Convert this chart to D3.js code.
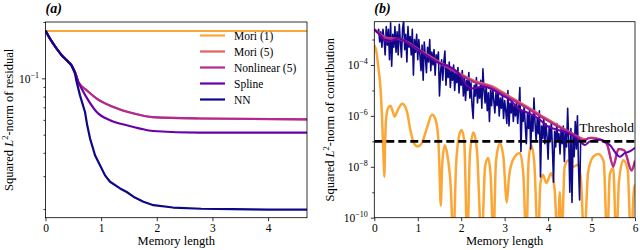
<!DOCTYPE html>
<html>
<head>
<meta charset="utf-8">
<script src="https://cdn.jsdelivr.net/npm/d3@7"></script>
<style>
  body { margin: 0; background: #fff; }
  svg, svg text { font-family: "Liberation Serif", "Times New Roman", Times, serif; }
</style>
</head>
<body>
<svg id="fig" width="640" height="250"></svg>
<script>
const FONT = '"Liberation Serif", "Times New Roman", Times, serif';
const seriesNames = ['Mori (1)', 'Mori (5)', 'Nonlinear (5)', 'Spline', 'NN'];
const colors = ['#fca636', '#e16462', '#b12a90', '#6a00a8', '#0d0887'];

// (a) squared L2-norm of residual vs memory length
const resMori1 = [[0, 0.179], [4.7, 0.179]];
const resMori5 = [[0, 0.180], [0.08, 0.163], [0.2, 0.144], [0.29, 0.133], [0.38, 0.125], [0.47, 0.117],
  [0.53, 0.108], [0.59, 0.0955], [0.74, 0.0863], [0.92, 0.078], [1.22, 0.0703], [1.57, 0.0651],
  [1.93, 0.0621], [2.77, 0.061], [4.7, 0.0603]];
const resNonlin = [[0, 0.180], [0.08, 0.163], [0.2, 0.144], [0.29, 0.133], [0.38, 0.125], [0.47, 0.117],
  [0.53, 0.108], [0.59, 0.0955], [0.74, 0.0863], [0.92, 0.078], [1.22, 0.0703], [1.57, 0.0651],
  [1.93, 0.0621], [2.77, 0.061], [4.7, 0.0603]];
const resSpline = [[0, 0.180], [0.08, 0.163], [0.2, 0.144], [0.29, 0.133], [0.38, 0.125], [0.47, 0.117],
  [0.53, 0.108], [0.59, 0.0955], [0.65, 0.088], [0.77, 0.0763], [0.92, 0.0661], [1.16, 0.0597],
  [1.46, 0.0561], [1.70, 0.0539], [1.93, 0.0523], [2.77, 0.0513], [4.7, 0.0513]];
const resNN = [[0, 0.180], [0.08, 0.163], [0.2, 0.144], [0.29, 0.133], [0.38, 0.125], [0.47, 0.117],
  [0.53, 0.106], [0.56, 0.0955], [0.62, 0.0811], [0.71, 0.0661], [0.75, 0.0561], [0.8, 0.0478],
  [0.89, 0.0388], [0.98, 0.0343], [1.07, 0.0303], [1.16, 0.028], [1.34, 0.0258], [1.46, 0.0247],
  [1.58, 0.0233], [1.76, 0.0219], [1.94, 0.021], [2.29, 0.0204], [2.8, 0.0201], [3.37, 0.0200],
  [4.0, 0.0199], [4.7, 0.0199]];

// (b) squared L2-norm of contribution vs memory length
const conMori1 = [[0, 6e-4], [0.05, 3.2e-4], [0.1, 6.3e-5], [0.14, 1.4e-5], [0.18, 7e-7], [0.21, 3e-8],
  [0.23, 4e-9], [0.25, 1e-7], [0.27, 7e-7], [0.315, 2e-6], [0.37, 2.5e-6], [0.42, 1.6e-6],
  [0.47, 9.3e-7], [0.52, 1.4e-6], [0.56, 2e-6], [0.65, 3e-6], [0.75, 1.5e-6], [0.83, 2.8e-7],
  [0.91, 8.5e-8], [1.0, 6.3e-8], [1.1, 9e-8], [1.21, 3.3e-7], [1.33, 1.1e-6], [1.40, 8e-7],
  [1.47, 1.5e-7], [1.50, 8e-9], [1.53, 3e-10], [1.56, 1e-8], [1.62, 7e-8], [1.68, 3e-8],
  [1.76, 1.6e-9], [1.82, 1e-11], [1.88, 1e-8], [1.95, 1.6e-7], [2.01, 2.8e-7], [2.07, 1e-7],
  [2.14, 1e-11], [2.20, 3e-8], [2.28, 2.2e-7], [2.36, 5e-8], [2.47, 1e-11], [2.55, 1e-8],
  [2.62, 2.2e-8], [2.68, 4e-9], [2.74, 1e-11], [2.80, 1.6e-8], [2.89, 8.5e-8], [2.97, 2.5e-8],
  [3.05, 4e-10], [3.10, 4e-9], [3.20, 2e-8], [3.35, 3.5e-8], [3.43, 5e-9], [3.50, 1e-11],
  [3.55, 1.6e-8], [3.61, 7e-8], [3.68, 1.6e-8], [3.77, 1e-11], [3.82, 2e-9], [3.88, 4.9e-9],
  [3.96, 2.3e-9], [4.07, 5.6e-9], [4.15, 1.3e-9], [4.22, 1e-11], [4.27, 1e-9], [4.31, 1e-11],
  [4.38, 1e-8], [4.47, 1.8e-8], [4.57, 1e-8], [4.69, 1.2e-8], [4.76, 2.5e-9], [4.83, 1e-11],
  [4.92, 6e-9], [5.04, 2.5e-8], [5.16, 3.2e-8], [5.28, 1.6e-8], [5.36, 1e-11], [5.42, 5e-9],
  [5.50, 9e-9], [5.57, 1e-11], [5.63, 2.5e-9], [5.73, 1.8e-8], [5.83, 8e-9], [5.91, 1e-11],
  [5.97, 1e-9], [6.0, 2e-9]];
const conMori5 = [[0, 2.5e-3], [0.3, 1.15e-3], [0.6, 1.05e-3], [1.0, 4.3e-4], [1.5, 1.3e-4],
  [2.0, 4.3e-5], [2.3, 2.4e-5], [2.7, 1.5e-5], [3.1, 6e-6], [3.5, 2.4e-6], [3.9, 9e-7],
  [4.3, 3.6e-7], [4.7, 1.5e-7], [4.85, 1.2e-7], [5.0, 1.4e-7], [5.2, 1.2e-7], [5.35, 8e-8],
  [5.5, 1.2e-8], [5.62, 5e-8], [5.75, 4.5e-8], [5.92, 8e-9], [6.0, 1.8e-8]];
const conNonlin = [[0, 2.5e-3], [0.3, 1.1e-3], [0.6, 1e-3], [1.0, 4e-4], [1.5, 1.2e-4], [2.0, 4e-5],
  [2.28, 2.2e-5], [2.66, 1.4e-5], [3.05, 5.8e-6], [3.46, 2.3e-6], [3.84, 9.3e-7], [4.23, 3.8e-7],
  [4.61, 1.8e-7], [4.8, 1.1e-7], [4.96, 1.35e-7], [5.2, 1.15e-7], [5.35, 8e-8], [5.5, 1e-8],
  [5.62, 5e-8], [5.75, 4.5e-8], [5.92, 7e-9], [6.0, 1.6e-8]];
const conSpline = [[0, 2.5e-3], [0.15, 1.4e-3], [0.29, 8e-4], [0.41, 9e-4], [0.56, 1.1e-3],
  [0.79, 7e-4], [1.02, 3.9e-4], [1.25, 2.1e-4], [1.48, 1.2e-4], [1.74, 8.5e-5], [1.97, 4.1e-5],
  [2.09, 1.9e-5], [2.24, 1.2e-5], [2.51, 1.4e-5], [2.74, 1.05e-5], [2.93, 6.6e-6], [3.12, 4.3e-6],
  [3.31, 2e-6], [3.54, 1.3e-6], [3.77, 8.1e-7], [4.0, 3.8e-7], [4.23, 2.8e-7], [4.46, 2.1e-7],
  [4.69, 1.2e-7], [4.85, 7.2e-8], [4.96, 1e-7], [5.19, 1.15e-7], [5.42, 7.2e-8], [5.65, 2.5e-8],
  [5.77, 3.5e-8], [5.88, 4e-8], [6.0, 5.6e-8]];
// NN contribution, sampled every 0.025 in memory length
const nnStep = 0.025;
const conNN = [
  2.4e-3, 2.2e-3, 2e-3, 1.8e-3, 2.5e-3, 8e-4, 2e-3, 5e-4, 2.5e-3, 1e-3,
  2.5e-4, 3.2e-3, 6e-4, 2.5e-3, 1.6e-4, 4.5e-3, 9e-5, 1.6e-3, 5e-4, 3.2e-3,
  3.2e-4, 2e-3, 2.5e-4, 4e-3, 8e-4, 2e-4, 2.5e-3, 5.6e-3, 4e-4, 1.6e-3,
  1.3e-4, 3.2e-3, 5e-4, 1.3e-3, 2.5e-4, 2.5e-3, 4e-5, 1e-3, 3.2e-4, 1.6e-3,
  1.6e-4, 1e-3, 2.5e-4, 6e-5, 6e-4, 2.5e-5, 8e-4, 2e-4, 5e-5, 5e-4,
  1.3e-4, 1e-3, 6e-5, 3.2e-4, 1e-4, 4e-4, 4e-5, 2.5e-4, 1.3e-4, 3.2e-4,
  6e-6, 5e-5, 1.6e-4, 2.5e-5, 1.3e-4, 3.5e-4, 1.6e-5, 1e-4, 3.2e-5, 1.3e-4,
  1.3e-5, 6e-5, 2.5e-5, 1e-4, 1e-5, 5e-5, 2e-5, 8e-5, 8e-6, 4e-5,
  1.6e-5, 6e-5, 6e-6, 3.2e-5, 4e-6, 2.5e-5, 1e-5, 5e-5, 5e-6, 2e-5,
  2.5e-6, 8e-7, 1.6e-5, 6e-6, 3.2e-5, 3.2e-6, 1.3e-5, 5e-6, 2.5e-5, 2e-6,
  7e-5, 1e-5, 3.2e-6, 1.6e-5, 1.6e-6, 8e-6, 6e-7, 1e-5, 2.5e-6, 1.3e-5,
  4e-6, 1.3e-6, 8e-6, 2.5e-6, 1e-5, 1e-6, 5e-6, 2e-6, 6e-6, 8e-7,
  4e-6, 1.6e-6, 5e-7, 1e-5, 4e-7, 3.2e-6, 1.3e-6, 5e-6, 6e-7, 2.5e-6,
  1e-6, 4e-6, 5e-7, 2e-6, 1.3e-5, 4e-8, 1.6e-6, 6e-7, 2.5e-6, 4e-7,
  8e-8, 1.3e-6, 3.2e-7, 2e-6, 5e-8, 1e-6, 2.5e-7, 5e-6, 5e-7, 1e-7,
  8e-7, 2e-7, 1.6e-6, 4e-9, 4e-7, 1.3e-7, 8e-7, 8e-8, 5e-7, 1.6e-7,
  2e-8, 4e-7, 1e-7, 6e-7, 5e-8, 2.5e-9, 2.5e-7, 6e-8, 5e-7, 1e-7,
  2e-7, 3.2e-8, 3.2e-7, 8e-8, 4e-7, 1.6e-8, 2.5e-7, 6e-8, 2e-6, 1e-7,
  1e-9, 3.2e-7, 4e-10, 1.6e-7, 2.5e-8, 6e-7, 5e-8, 1e-6, 1e-8, 5e-10,
  1.3e-7];
const threshold = 1e-7;

const xTicksA = [0, 1, 2, 3, 4];
const yMajorA = [0.1];
const yMinorA = [0.02, 0.03, 0.04, 0.05, 0.06, 0.07, 0.08, 0.09, 0.2];
const xTicksB = [0, 1, 2, 3, 4, 5, 6];
const yMajorB = [1e-10, 1e-8, 1e-6, 1e-4];
const yMinorB = [1e-9, 1e-7, 1e-5, 1e-3];

const svg = d3.select('#fig').attr('font-family', FONT);

function supLabel(sel) {
  sel.each(function(d) {
    const e = Math.round(Math.log10(d));
    const t = d3.select(this).text(null);
    t.append('tspan').text('10');
    t.append('tspan').attr('dy', -5).attr('font-size', 8).text('\u2212' + Math.abs(e));
  });
}

function makePanel(id, box, xDom, yDom, xTicks, yMajor, yMinor) {
  const x = d3.scaleLinear().domain(xDom).range([box.left, box.right]);
  const y = d3.scaleLog().domain(yDom).range([box.bottom, box.top]);
  const g = svg.append('g');

  svg.append('clipPath').attr('id', id)
    .append('rect')
    .attr('x', box.left).attr('y', box.top)
    .attr('width', box.right - box.left).attr('height', box.bottom - box.top);

  g.append('g').attr('transform', `translate(0,${box.bottom})`)
    .call(d3.axisBottom(x).tickValues(xTicks).tickFormat(d3.format('d')).tickSize(3.5).tickPadding(2.5));
  const ya = g.append('g').attr('transform', `translate(${box.left},0)`)
    .call(d3.axisLeft(y).tickValues(yMajor).tickSize(3.5).tickPadding(3));
  ya.selectAll('text').call(supLabel);
  g.append('g').attr('transform', `translate(${box.left},0)`)
    .call(d3.axisLeft(y).tickValues(yMinor).tickFormat('').tickSize(2));

  g.selectAll('.domain').remove();
  g.selectAll('g').attr('font-family', FONT).attr('font-size', 11.5);
  g.selectAll('.tick line').attr('stroke', '#000').attr('stroke-width', 0.8);
  g.selectAll('.tick text').attr('fill', '#000');

  const plot = svg.append('g').attr('clip-path', `url(#${id})`);
  return { x, y, g, plot, box };
}

function drawLine(p, data, color, width, curve) {
  const line = d3.line()
    .x(d => p.x(d[0]))
    .y(d => p.y(d[1]))
    .curve(curve || d3.curveMonotoneX);
  p.plot.append('path').datum(data)
    .attr('fill', 'none').attr('stroke', color).attr('stroke-width', width)
    .attr('stroke-linejoin', 'round').attr('d', line);
}

function frame(p, title, ylabel) {
  const b = p.box;
  svg.append('rect')
    .attr('x', b.left).attr('y', b.top)
    .attr('width', b.right - b.left).attr('height', b.bottom - b.top)
    .attr('fill', 'none').attr('stroke', '#000').attr('stroke-width', 0.8);
  svg.append('text').attr('x', b.left).attr('y', 13)
    .attr('font-size', 14).attr('font-weight', 'bold').attr('font-style', 'italic').text(title);
  svg.append('text').attr('x', (b.left + b.right) / 2).attr('y', 245)
    .attr('text-anchor', 'middle').attr('font-size', 12.5).text('Memory length');
  const yl = svg.append('text')
    .attr('transform', `translate(${ylabel.x},${(b.top + b.bottom) / 2}) rotate(-90)`)
    .attr('text-anchor', 'middle').attr('font-size', 12.5);
  yl.append('tspan').text('Squared ');
  yl.append('tspan').attr('font-style', 'italic').text('L');
  yl.append('tspan').attr('dy', -5).attr('font-size', 8.5).text('2');
  yl.append('tspan').attr('dy', 5).text('-norm of ' + ylabel.text);
}

// ---- panel (a)
const pa = makePanel('clipA', { left: 45.5, right: 307, top: 22, bottom: 217.7 },
  [0, 4.7], [0.018, 0.2], xTicksA, yMajorA, yMinorA);
drawLine(pa, resMori1, colors[0], 2.2);
drawLine(pa, resMori5, colors[1], 2.2);
drawLine(pa, resNonlin, colors[2], 2.2);
drawLine(pa, resSpline, colors[3], 2.2);
drawLine(pa, resNN, colors[4], 2.2, d3.curveLinear);
frame(pa, '(a)', { x: 13, text: 'residual' });

// legend
const legend = svg.append('g');
seriesNames.forEach((name, i) => {
  const ly = 35.5 + i * 16;
  legend.append('line').attr('x1', 200).attr('x2', 225).attr('y1', ly).attr('y2', ly)
    .attr('stroke', colors[i]).attr('stroke-width', 2.2);
  legend.append('text').attr('x', 234).attr('y', ly + 4).attr('font-size', 11.5).text(name);
});

// ---- panel (b)
const pb = makePanel('clipB', { left: 374.3, right: 635, top: 21.7, bottom: 217.7 },
  [0, 6], [1e-10, Math.pow(10, -2.3)], xTicksB, yMajorB, yMinorB);
drawLine(pb, conMori1, colors[0], 2.5);
drawLine(pb, conNN.map((v, i) => [i * nnStep, v]), colors[4], 1.6, d3.curveLinear);
drawLine(pb, conMori5, colors[1], 2.2);
drawLine(pb, conNonlin, colors[2], 2.2);
drawLine(pb, conSpline, colors[3], 2.0);

pb.plot.append('line')
  .attr('x1', pb.x(0)).attr('x2', pb.x(6))
  .attr('y1', pb.y(threshold)).attr('y2', pb.y(threshold))
  .attr('stroke', '#000').attr('stroke-width', 2.6).attr('stroke-dasharray', '8,4');
svg.append('text').attr('x', 634).attr('y', 132)
  .attr('text-anchor', 'end').attr('font-size', 13.5).text('Threshold');

frame(pb, '(b)', { x: 334, text: 'contribution' });
</script>
</body>
</html>
